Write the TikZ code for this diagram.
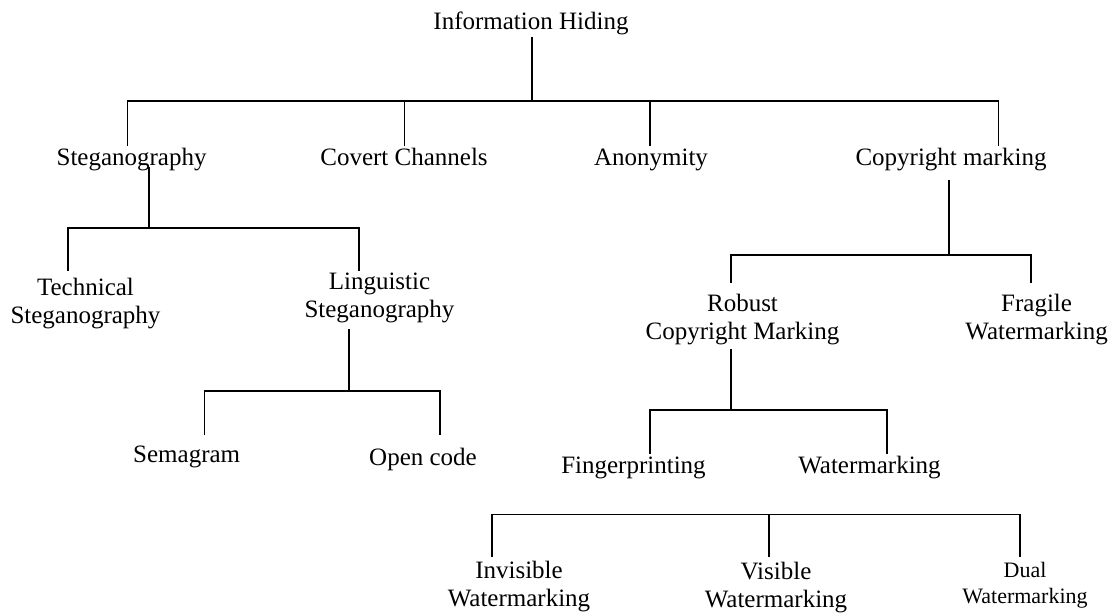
\documentclass[tikz,border=0pt]{standalone}
\usepackage{fontspec}
\setmainfont{Liberation Serif}
\begin{document}
\begin{tikzpicture}[x=1pt,y=-1pt,
  lbl/.style={inner sep=0pt, anchor=base, align=center, font=\fontsize{25}{28}\selectfont},
  small/.style={font=\fontsize{22}{26}\selectfont},
  tree/.style={line width=1.6pt}]
\useasboundingbox (0,0) rectangle (1112,614);

% labels (multi-line labels are placed by the baseline of their last line)
\node[lbl] (ih)   at (531,29)    {Information Hiding};
\node[lbl] (steg) at (131.6,165) {Steganography};
\node[lbl] (cov)  at (404,165)   {Covert Channels};
\node[lbl] (anon) at (651,165)   {Anonymity};
\node[lbl] (copy) at (951,165)   {Copyright marking};
\node[lbl] (tech) at (85.5,323)  {Technical\\Steganography};
\node[lbl] (ling) at (379.5,317) {Linguistic\\Steganography};
\node[lbl] (sema) at (186.7,462) {Semagram};
\node[lbl] (open) at (423,465)   {Open code};
\node[lbl] (rob)  at (742.5,339) {Robust\\Copyright Marking};
\node[lbl] (frag) at (1036.6,339){Fragile\\Watermarking};
\node[lbl] (fing) at (633.5,473) {Fingerprinting};
\node[lbl] (wm)   at (869.5,473) {Watermarking};
\node[lbl] (inv)  at (519,606.5) {Invisible\\Watermarking};
\node[lbl] (vis)  at (776,607)   {Visible\\Watermarking};
\node[lbl,small] (dual) at (1025,603) {Dual\\Watermarking};

% stem tops, junctions and drop ends
\coordinate (ihT)   at (532,37);   \coordinate (ihJ)   at (532,101);
\coordinate (stegD) at (127.5,146);\coordinate (covD)  at (404.6,146);
\coordinate (anonD) at (650,146);  \coordinate (copyD) at (998.6,146);

\coordinate (stegT) at (149,167);  \coordinate (stegJ) at (149,228);
\coordinate (techD) at (68,271);   \coordinate (lingD) at (359,271);

\coordinate (lingT) at (349,329);  \coordinate (lingJ) at (349,391);
\coordinate (semaD) at (204.3,435);\coordinate (openD) at (440,435);

\coordinate (copyT) at (949,180);  \coordinate (copyJ) at (949,255);
\coordinate (robD)  at (731,283);  \coordinate (fragD) at (1031,283);

\coordinate (robT)  at (731,349);  \coordinate (robJ)  at (731,410);
\coordinate (fingD) at (650,454);  \coordinate (wmD)   at (886.7,454);

\coordinate (wmJ)   at (769,514.3);
\coordinate (invD)  at (492,557);  \coordinate (visD)  at (769,557);
\coordinate (dualD) at (1020,557);

% connectors
\draw[tree] (ihT) -- (ihJ);
\draw[tree] (stegD) |- (ihJ) -| (copyD);
\draw[tree] (covD) -- (covD |- ihJ);
\draw[tree] (anonD) -- (anonD |- ihJ);

\draw[tree] (stegT) -- (stegJ);
\draw[tree] (techD) |- (stegJ) -| (lingD);

\draw[tree] (lingT) -- (lingJ);
\draw[tree] (semaD) |- (lingJ) -| (openD);

\draw[tree] (copyT) -- (copyJ);
\draw[tree] (robD) |- (copyJ) -| (fragD);

\draw[tree] (robT) -- (robJ);
\draw[tree] (fingD) |- (robJ) -| (wmD);

\draw[tree] (invD) |- (wmJ) -| (dualD);
\draw[tree] (visD) -- (wmJ);
\end{tikzpicture}
\end{document}
